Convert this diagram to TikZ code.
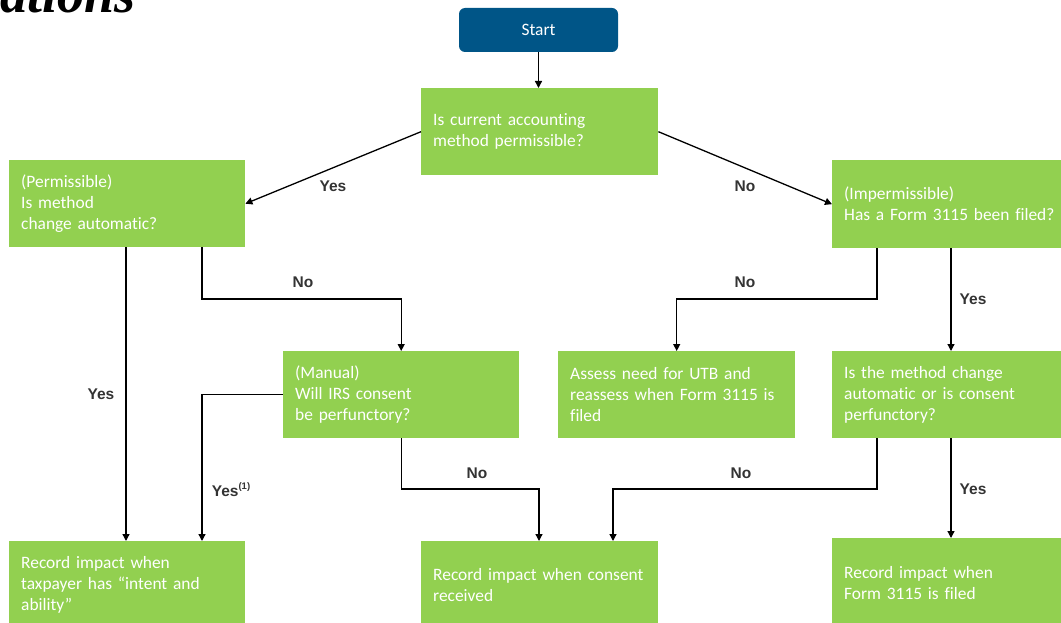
\documentclass[tikz,border=0pt]{standalone}
\usepackage{fontspec}
\setmainfont{Carlito}[Ligatures=NoCommon]
\newfontfamily\lblfont{Liberation Sans}
\newfontfamily\titlefont{Liberation Serif}
\usetikzlibrary{arrows.meta,calc}
\definecolor{boxgreen}{HTML}{92D050}
\definecolor{startblue}{HTML}{005587}
\definecolor{lblgray}{HTML}{333333}
\begin{document}
\begin{tikzpicture}[x=1pt,y=-1pt,
  box/.style={fill=boxgreen, text=white, font=\fontsize{17.4}{21}\selectfont,
    align=left, anchor=north west, inner xsep=12pt, inner ysep=0pt, minimum height=87pt},
  startbox/.style={fill=startblue, text=white, font=\fontsize{17.4}{21}\selectfont,
    rounded corners=6pt, minimum width=159pt, minimum height=44pt, inner sep=0pt},
  lbl/.style={font=\lblfont\bfseries\fontsize{15.5}{18}\selectfont, text=lblgray, inner sep=0pt},
  arr/.style={-{Triangle[length=7pt,width=7pt]}, line width=1.3pt, black},
  titlestyle/.style={font=\titlefont\bfseries\itshape\fontsize{54}{60}\selectfont, inner sep=0pt}
]
\useasboundingbox (0,0) rectangle (1061,623);

\node[titlestyle, anchor=base east] (title) at (136,13) {ations};

\node[startbox] (start) at (538.5,30) {Start};

\node[box, text width=213pt] (q1) at (421,88) {\mbox{Is current accounting}\\\mbox{method permissible?}};
\node[box, text width=212pt] (perm) at (9,160) {(Permissible)\\Is method\\\mbox{change automatic?}};
\node[box, text width=205pt, minimum height=88pt] (imp) at (832,160) {(Impermissible)\\\mbox{Has a Form 3115 been filed?}};
\node[box, text width=212pt] (manual) at (283,351) {(Manual)\\\mbox{Will IRS consent}\\\mbox{be perfunctory?}};
\node[box, text width=213pt] (utb) at (558,351) {\mbox{Assess need for UTB and}\\\mbox{reassess when Form 3115 is}\\filed};
\node[box, text width=205pt] (meth) at (832,351) {\mbox{Is the method change}\\\mbox{automatic or is consent}\\perfunctory?};
\node[box, text width=212pt, minimum height=88pt] (rec1) at (9,541) {\mbox{Record impact when}\\\mbox{taxpayer has “intent and}\\ability”};
\node[box, text width=213pt, minimum height=88pt] (rec2) at (421,541) {\mbox{Record impact when consent}\\received};
\node[box, text width=205pt, minimum height=89pt] (rec3) at (832,538) {\mbox{Record impact when}\\\mbox{Form 3115 is filed}};

\coordinate (k1) at (202,299);
\coordinate (k3) at (539,489);
\coordinate (k4) at (877,299);
\coordinate (k5) at (877,489);
\coordinate (k6) at (613,489);
\coordinate (c126) at (126,0);
\coordinate (c951) at (951,0);

\draw[arr] (start.south) -- (start.south |- q1.north);
\draw[arr] (q1.west) -- (perm.east);
\draw[arr] (q1.east) -- (imp.west);
\draw[arr] (perm.south -| c126) -- (rec1.north -| c126);
\draw[arr] (perm.south -| k1) -- (k1) -| (manual.north);
\draw[arr] (manual.west) -| (rec1.north -| k1);
\draw[arr] (manual.south) |- (k3) -- (rec2.north -| k3);
\draw[arr] (imp.south -| k4) -- (k4) -| (utb.north);
\draw[arr] (imp.south -| c951) -- (meth.north -| c951);
\draw[arr] (meth.south -| k5) -- (k5) -- (k6) -- (rec2.north -| k6);
\draw[arr] (meth.south -| c951) -- (rec3.north -| c951);

\node[lbl] (l1) at (333,186) {Yes};
\node[lbl] (l2) at (745,186) {No};
\node[lbl] (l3) at (303,282) {No};
\node[lbl] (l4) at (101,394) {Yes};
\node[lbl] (l5) at (231,490) {Yes\raisebox{0.45em}{\fontsize{9.5}{10}\selectfont(1)}};
\node[lbl] (l6) at (477,473) {No};
\node[lbl] (l7) at (745,282) {No};
\node[lbl] (l8) at (973,299) {Yes};
\node[lbl] (l9) at (741,473) {No};
\node[lbl] (l10) at (973,489) {Yes};
\end{tikzpicture}
\end{document}
